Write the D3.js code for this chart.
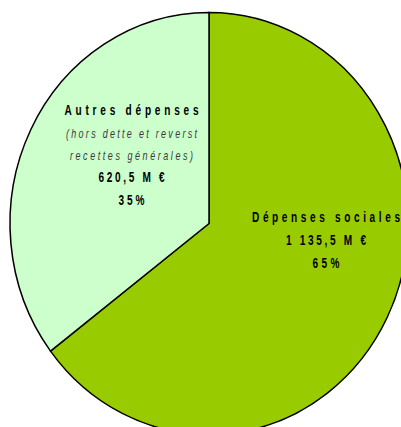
<!DOCTYPE html>
<html>
<head>
<meta charset="utf-8">
<script src="https://cdn.jsdelivr.net/npm/d3@7/dist/d3.min.js"></script>
<style>
  html, body { margin: 0; padding: 0; background: #ffffff; }
  svg { display: block; }
  text { font-family: "Liberation Sans", Arial, sans-serif; }
</style>
</head>
<body>
<svg id="chart" width="401" height="427"></svg>
<script>
// Budget split (millions of euros)
const categories = ["Dépenses sociales", "Autres dépenses"];
const subtitles = [[], ["(hors dette et reverst", "recettes générales)"]];
const values = [1135.5, 620.5];
const colors = ["#99cc00", "#ccffcc"];

const fr = d3.formatLocale({ decimal: ",", thousands: " ", grouping: [3], currency: ["", " €"] });
const fmtAmount = fr.format(",.1f");

const W = 401, H = 427;
const cx = 209, cy = 223.5, rx = 199, ry = 211;

const svg = d3.select("#chart");

const pie = d3.pie().sort(null).value(d => d)(values);
const arc = d3.arc().innerRadius(0).outerRadius(rx);

// The pie is drawn as a circle then stretched vertically into an ellipse
const g = svg.append("g")
  .attr("transform", `translate(${cx},${cy}) scale(1,${ry / rx})`);

g.selectAll("path")
  .data(pie)
  .join("path")
  .attr("d", arc)
  .attr("fill", (d, i) => colors[i])
  .attr("stroke", "#000")
  .attr("stroke-width", 1.5)
  .attr("vector-effect", "non-scaling-stroke")
  .attr("stroke-linejoin", "miter");

const total = d3.sum(values);

// Label block layout: centre x, first baseline y, line gap, and target line widths
const labelLayout = [
  { x: 326, y: 222, gap: 23, widths: [148, 80, 27] },
  { x: 131.5, y: 115.5, gap: 22.3, widths: [134, 131, 123, 66, 26] }
];
// Horizontal squeeze giving the condensed lettering
const squeeze = 0.72;

values.forEach((v, i) => {
  const L = labelLayout[i];
  const lines = [];
  lines.push({ text: categories[i], kind: "title" });
  subtitles[i].forEach(s => lines.push({ text: s, kind: "sub" }));
  lines.push({ text: fmtAmount(v) + " M €", kind: "value" });
  lines.push({ text: Math.round(v / total * 100) + "%", kind: "value" });

  const t = svg.append("g").attr("transform", `scale(${squeeze},1)`);
  lines.forEach((ln, k) => {
    const el = t.append("text")
      .attr("x", L.x / squeeze)
      .attr("y", L.y + k * L.gap)
      .attr("text-anchor", "middle")
      .attr("textLength", L.widths[k] / squeeze)
      .attr("lengthAdjust", "spacing")
      .text(ln.text);
    if (ln.kind === "sub") {
      el.attr("font-size", 12.5).attr("font-style", "italic").attr("fill", "#3a3a3a");
    } else {
      el.attr("font-size", 14).attr("font-weight", "bold").attr("fill", "#000");
    }
  });
});
</script>
</body>
</html>
